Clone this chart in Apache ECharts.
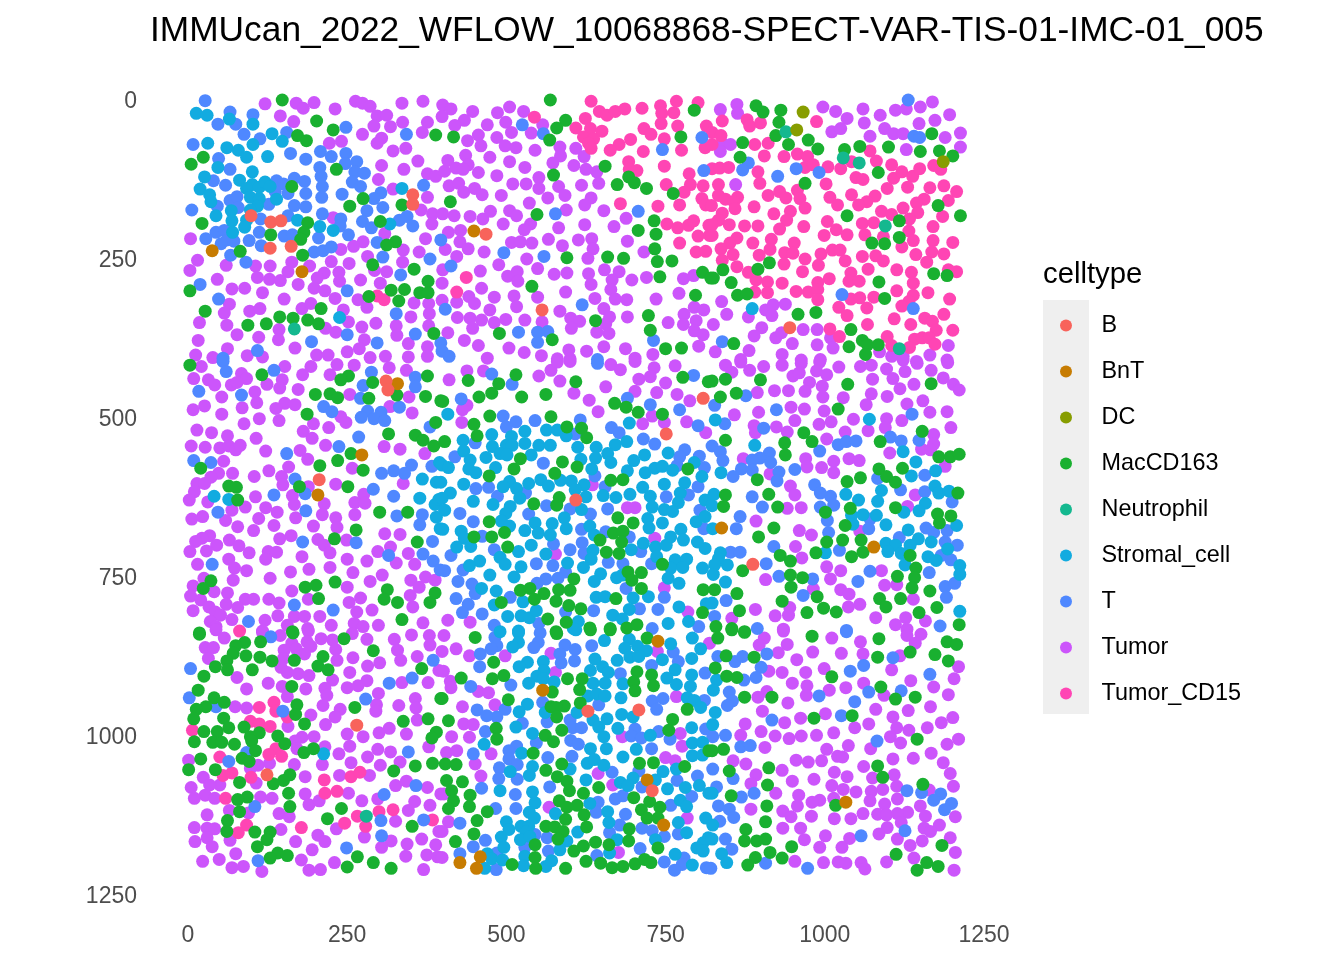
<!DOCTYPE html>
<html><head><meta charset="utf-8"><style>html,body{margin:0;background:#fff}#c{width:1344px;height:960px}</style>
<script src="https://cdn.jsdelivr.net/npm/echarts@6/dist/echarts.min.js"></script></head><body><div id="c"></div><script>
const names=["B","BnT","DC","MacCD163","Neutrophil","Stromal_cell","T","Tumor","Tumor_CD15"];
const colors=["#F8635B","#C77C02","#879D00","#19B030","#14B88F","#12ABE0","#4F88FF","#CC55FB","#FF45B4"];
const b=[99,182,130,192,146,190,129,233,162,230,353,149,353,164,468,211,556,330,945,358,311,442,314,456,206,597,809,469,751,525,609,629,887,730,265,983,124,1061,628,961,708,959,729,1086];
const bnt=[38,237,179,270,449,206,329,446,273,558,204,621,838,673,1077,703,738,851,557,928,721,1069,747,1140,427,1199,459,1190,453,1208,1033,1104];
const dc=[966,19,956,47,1186,97];
const neutrophil=[167,360,939,50,1029,91,1054,99,1095,198,1117,391,280,1126];
const tumorCD15=[297,308,308,314,633,2,767,2,801,4,646,18,658,24,671,18,686,14,713,13,742,9,744,21,763,20,544,27,624,29,743,37,609,44,632,45,650,49,769,41,716,45,727,54,814,41,621,58,637,61,748,61,629,68,633,76,695,62,677,70,663,79,715,81,775,79,812,75,692,97,693,109,705,111,748,104,787,116,751,133,789,133,779,145,809,135,807,155,813,165,679,163,738,167,772,165,752,195,769,201,786,197,794,190,818,197,801,214,819,213,772,225,798,239,813,238,437,279,422,302,
839,33,878,31,882,41,899,36,987,34,823,51,837,56,823,70,890,70,911,68,905,88,936,89,957,85,973,89,1071,80,1105,102,1081,96,1042,97,969,106,982,102,1005,105,1025,108,823,108,835,107,849,106,895,113,898,131,1002,132,1049,122,1060,125,1108,123,1121,113,1138,120,1149,108,1171,103,1182,109,1098,139,1130,137,1165,138,1187,135,1207,144,833,133,833,150,844,156,863,153,857,160,911,150,929,144,939,154,957,142,961,155,1008,153,1042,149,1079,151,1066,160,1053,165,1020,165,1156,156,1144,162,1194,158,889,168,859,171,969,170,822,166,946,175,1089,175,1105,180,1123,170,1146,177,920,179,839,178,1185,183,940,189,1133,187,1004,191,1059,194,1077,193,833,189,850,196,874,198,895,198,823,196,929,203,967,199,1170,199,1018,204,999,213,1035,212,1063,212,1092,215,1132,206,823,213,862,217,851,225,887,225,916,219,1139,221,1170,221,1201,224,952,225,837,234,856,243,914,235,937,240,950,241,994,242,1012,236,1024,236,1059,246,1080,245,1121,231,1143,243,1168,239,1187,242,897,244,839,252,969,250,1032,253,1092,253,1160,255,862,262,936,258,990,260,1068,266,1113,267,1136,271,1194,267,1207,270,880,271,965,270,1041,272,892,283,910,286,933,288,1007,281,989,287,1038,285,1054,285,1139,288,890,302,910,303,955,301,974,302,989,298,1113,300,1162,303,989,314,1041,313,1055,311,1077,310,1139,307,1132,317,1121,324,1196,313,1022,326,1066,327,1035,339,1109,344,1187,337,1157,343,1169,348,1067,353,1135,353,1175,362,1201,362,1008,360,1023,372,1098,372,1141,376,1153,374,1164,374,1173,384,1105,386,1133,389,
81,835,135,947,112,955,138,961,156,970,98,977,112,981,129,985,7,991,138,1020,127,1029,147,1032,50,1033,99,1065,69,1058,55,1062,214,1069,256,1064,270,1057,215,1090,234,1087,59,1098,300,1119,322,1116,266,1126,246,1137,279,1142,384,1132,92,1140,79,1152,178,1144];
const macTop=[148,0,202,33,228,47,172,56,186,64,389,55,24,90,5,101,233,109,163,136,275,155,254,167,336,165,22,194,188,193,302,191,182,208,177,219,130,212,326,223,312,228,82,238,180,244,290,259,355,266,377,285,3,300,284,309,319,299,340,298,364,303,377,303,331,316,27,332,209,328,144,341,165,343,188,346,205,352,123,352,94,354,386,367,
569,0,795,16,593,32,579,44,568,63,417,58,774,58,655,104,574,118,692,121,701,130,674,133,720,139,762,147,412,160,548,180,732,190,707,205,735,211,733,234,659,247,684,249,595,248,737,254,760,253,741,278,808,271,540,293,797,307,723,339,640,347,726,362,489,367,572,377,750,391,775,390,821,280,
892,9,903,19,931,16,928,35,923,56,974,63,943,70,989,77,871,67,867,90,1031,78,1055,73,1100,74,1168,53,1150,81,1180,80,1201,88,1084,114,969,131,1178,166,1213,182,1035,182,1117,190,1117,216,1074,225,1094,226,913,256,895,266,840,267,825,280,853,287,1171,273,1192,276,1085,286,863,307,878,305,1094,312,958,337,986,334,1041,361,857,383,1038,388,1059,378,1067,385,1084,385,1064,400];
const macMid=[3,417,116,432,252,434,240,440,290,444,376,434,328,464,200,463,223,462,235,468,284,469,373,466,397,473,187,494,315,525,357,527,369,535,386,544,389,507,256,556,235,567,207,575,275,582,20,579,175,608,251,608,64,607,76,609,78,629,301,648,345,648,264,676,230,690,360,695,36,756,24,768,231,758,184,766,201,763,205,784,313,770,308,785,329,790,380,790,388,775,336,817,18,838,164,836,
515,432,440,441,488,446,609,443,777,436,817,443,477,461,457,467,524,467,562,463,400,474,670,477,688,483,707,491,745,494,474,497,570,498,449,510,595,514,618,516,626,531,454,528,403,537,522,564,588,569,611,577,512,580,576,587,473,591,785,580,664,598,683,597,583,625,579,637,543,635,675,657,473,663,699,665,668,681,683,678,497,680,477,687,449,687,681,695,647,692,502,703,657,711,677,713,745,730,691,742,712,743,606,753,697,755,712,768,809,770,522,771,537,768,582,770,600,771,559,776,544,785,672,784,492,790,578,788,598,795,617,800,808,806,565,816,594,821,631,830,663,831,689,830,705,825,578,836,
823,442,844,439,899,440,1036,447,1167,446,836,467,861,461,1021,486,1153,521,967,523,844,535,937,539,980,537,1087,537,938,558,1179,561,1197,561,1211,557,1085,580,1122,579,894,597,1056,594,1035,600,1097,592,1111,601,912,620,844,621,1209,618,841,639,926,640,1111,641,1040,642,1001,648,1177,651,1198,654,1180,665,1032,669,920,673,896,687,1028,692,1057,692,1003,695,1060,711,1042,718,986,712,930,716,1134,716,946,725,1143,736,871,740,1114,749,946,747,965,751,1141,751,947,766,1137,767,1165,772,827,770,862,776,988,781,1086,784,1119,784,933,788,1096,797,1176,798,998,799,1018,805,972,806,866,803,1148,806,1211,825,829,828,854,831,874,836];
const macLow=[18,840,165,838,245,847,89,853,114,852,75,858,71,870,291,866,91,874,113,876,132,882,167,881,212,875,61,882,43,891,62,896,101,896,204,890,220,896,367,894,25,906,163,922,16,928,41,940,57,947,397,941,28,954,13,958,171,951,169,966,262,955,9,973,56,972,64,987,183,981,338,977,377,973,88,986,25,993,46,993,112,995,98,1001,141,1000,10,1009,39,1010,53,1010,73,1013,152,1012,100,1008,106,1023,182,1026,197,1020,390,994,383,1003,20,1036,85,1035,96,1040,43,1053,1,1053,357,1047,323,1055,384,1043,160,1061,150,1070,134,1075,81,1073,158,1090,93,1096,78,1100,160,1111,241,1114,81,1119,219,1130,62,1133,61,1150,105,1151,129,1151,352,1142,124,1163,109,1174,141,1184,129,1192,156,1188,266,1190,291,1199,250,1206,319,1208,
451,845,579,839,632,833,663,833,721,846,480,884,705,899,728,904,496,905,429,909,478,910,596,910,619,910,700,915,731,921,615,927,702,929,572,931,399,941,503,943,616,948,591,953,570,954,578,955,784,958,579,970,409,976,761,974,484,988,587,991,755,991,561,999,485,1005,574,1009,542,1027,818,1023,404,1044,421,1045,587,1044,709,1043,731,1042,780,1048,562,1054,580,1064,595,1071,406,1070,431,1072,645,1081,599,1086,414,1086,621,1090,443,1093,700,1097,417,1102,583,1102,725,1103,409,1114,442,1111,611,1109,595,1112,741,1112,712,1116,470,1119,622,1124,721,1129,738,1129,454,1133,593,1131,562,1142,576,1143,626,1143,589,1150,693,1146,449,1154,581,1162,420,1166,692,1165,640,1167,661,1171,545,1171,621,1173,606,1181,738,1176,545,1191,625,1197,648,1200,702,1201,717,1194,727,1199,509,1202,666,1207,683,1205,546,1208,593,1208,
832,846,854,833,874,837,980,843,1085,847,1192,852,1207,856,1134,868,845,874,889,876,1083,876,1173,872,1194,882,828,893,846,906,862,908,1011,907,1088,923,874,939,917,939,1111,942,1142,939,983,972,1043,968,1145,1005,841,1021,823,1023,912,1050,1083,1047,850,1055,1091,1065,910,1077,1154,1076,853,1094,1017,1109,909,1110,907,1135,876,1147,874,1165,893,1165,907,1162,948,1174,1184,1172,914,1183,891,1191,933,1192,1112,1186,879,1203,1160,1199,1178,1205,1145,1211];
const stromalTop=[13,21,30,24,65,30,102,38,132,53,148,65,31,68,61,75,79,79,102,70,92,90,125,89,47,106,101,113,26,121,81,126,101,133,92,139,112,137,121,129,129,136,19,140,34,149,36,160,98,153,112,155,139,156,109,167,98,173,68,174,44,182,69,190,92,189,89,200,70,208,172,189,207,199,228,205,317,195,336,139,238,342,886,328,
41,623,64,628,368,596,364,626,390,601,388,636,394,628,390,656,396,674,395,570];
const stromalMid=[408,494,529,521,477,526,563,519,580,519,594,528,508,529,693,508,432,535,529,540,478,545,500,543,509,543,551,543,569,543,612,546,641,546,689,537,671,542,433,552,490,556,501,558,539,558,468,562,640,563,659,556,617,565,754,555,717,558,443,566,664,570,700,567,795,570,399,574,409,578,441,580,483,578,634,580,452,586,690,583,718,586,733,579,745,576,761,582,807,592,397,601,433,604,554,597,566,607,585,598,602,599,505,600,495,608,535,603,622,605,714,609,748,604,780,602,412,618,516,611,608,613,652,622,672,625,694,620,726,623,773,618,521,626,625,624,448,631,399,626,479,636,506,639,812,629,729,640,748,644,770,633,761,647,403,645,618,644,499,650,591,657,722,658,492,662,545,665,572,666,745,665,798,663,812,655,400,675,505,670,594,674,631,670,724,673,429,678,529,677,550,681,569,684,638,684,774,675,434,689,715,697,758,687,778,692,800,695,422,703,444,702,539,700,636,708,696,707,734,703,751,700,812,705,490,719,519,710,562,714,498,730,633,722,596,728,736,718,458,725,442,732,523,734,621,735,765,723,783,722,758,736,777,735,808,736,474,747,512,750,648,745,638,757,673,751,682,747,754,752,771,760,461,768,484,772,526,789,641,782,655,781,699,783,723,781,481,794,693,801,771,797,814,792,667,810,682,816,502,812,523,811,536,814,547,803,613,820,754,823,786,820,519,835,605,831,
1070,502,828,503,890,543,1123,553,1143,569,837,586,1174,583,1136,591,1089,614,1173,607,1179,618,1195,615,1033,620,1053,629,1083,631,826,620,1158,634,1148,646,823,638,1124,648,1042,653,1060,652,1081,653,1044,667,1096,668,1207,669,1131,676,824,674,1147,690,1167,695,1096,697,1111,700,1099,710,1134,700,1193,706,1001,712,1120,713,1162,718,1175,724,836,712,833,721,847,731,1126,731,827,731,1212,732,825,746,1212,746,844,758,1212,804,823,791];
const stromalLow=[213,1028,490,836,519,838,609,833,654,850,693,848,519,853,510,860,758,855,792,846,686,862,706,859,720,866,805,863,694,876,708,875,639,879,674,881,745,880,791,878,533,884,520,891,558,883,559,897,651,891,632,897,660,900,765,896,791,904,548,906,558,910,575,915,535,917,752,909,636,917,655,917,683,918,767,919,789,922,628,937,642,934,655,937,680,940,784,940,795,944,533,950,805,955,520,962,611,963,681,966,561,963,699,970,636,975,658,973,515,986,645,986,675,988,791,987,541,996,653,1001,726,999,465,1013,792,1011,808,1010,632,1020,657,1020,704,1021,524,1027,683,1033,792,1031,808,1030,627,1043,638,1037,653,1046,600,1052,541,1048,767,1052,506,1056,536,1062,699,1066,746,1056,734,1069,625,1069,679,1073,691,1078,803,1078,781,1081,490,1086,753,1083,541,1088,818,1090,545,1105,631,1106,773,1101,783,1111,536,1120,577,1122,659,1119,544,1129,500,1135,661,1136,770,1136,813,1129,523,1142,504,1147,535,1142,612,1151,783,1152,492,1159,531,1151,522,1163,537,1158,734,1163,674,1163,595,1165,584,1179,496,1175,817,1160,809,1168,799,1176,809,1181,765,1186,662,1184,470,1185,529,1189,571,1196,477,1193,494,1195,792,1203,527,1204,562,1205,466,1208,
830,912,825,928,828,963,824,982,823,1090,824,1140,823,1162,838,1185,846,1199];
const tTop=[27,1,66,19,102,23,47,38,75,38,88,54,113,61,155,51,248,43,343,54,8,70,161,84,185,93,208,81,225,89,248,84,247,100,265,97,48,92,66,109,207,106,209,120,211,136,210,153,262,113,277,115,258,129,271,136,40,127,59,134,139,127,150,132,167,123,183,128,185,147,157,147,137,144,242,148,303,146,292,155,370,134,6,173,46,167,66,158,77,152,79,169,127,164,167,166,185,168,281,174,306,169,211,179,157,182,114,187,240,187,239,198,274,191,288,201,332,189,344,183,353,198,44,208,57,205,28,218,52,226,61,220,72,222,96,221,112,208,115,229,151,214,164,212,205,217,252,212,297,224,198,239,212,237,225,231,67,244,91,255,306,247,380,250,334,275,19,290,250,300,48,313,327,336,250,369,194,380,357,368,297,382,109,394,55,406,
525,39,558,53,745,78,807,59,810,111,707,175,577,179,496,240,559,246,413,261,619,322,404,329,519,365,549,365,565,364,549,381,731,378,397,382,399,395,410,403,643,408,397,220,
1131,0,1140,57,1149,59,880,99,871,110,926,120,955,108,991,114,1027,306,1139,328,839,380];
const tMid=[55,411,135,425,60,427,288,428,357,436,357,451,275,449,17,458,84,464,271,469,332,483,213,482,226,490,282,489,303,491,272,499,292,501,309,504,380,514,268,530,237,545,155,556,9,567,36,570,383,576,351,574,323,583,340,587,304,587,168,596,184,619,291,612,135,621,323,623,47,648,185,646,328,654,368,652,364,668,180,695,264,696,384,694,315,716,369,714,385,725,38,730,167,794,228,802,95,820,396,739,
643,414,477,431,509,447,794,433,429,470,690,469,726,479,772,487,495,497,515,506,500,514,545,504,616,503,665,515,677,523,801,512,608,525,715,533,733,541,451,539,780,550,419,561,772,561,803,560,558,571,768,575,811,578,639,591,452,611,472,609,486,623,530,618,655,608,801,608,751,624,786,621,563,638,600,643,659,643,535,651,632,651,427,650,448,663,804,645,618,675,656,679,462,686,693,687,810,674,574,698,619,696,481,707,413,716,600,707,622,713,711,710,660,727,683,729,728,729,547,729,573,732,403,740,432,739,593,742,562,753,581,752,548,760,424,757,446,761,451,776,688,768,506,782,421,784,440,793,431,806,462,808,748,782,637,803,709,800,738,801,593,805,481,826,551,823,802,828,729,831,
876,465,827,480,924,487,843,509,904,516,1137,494,1103,530,1120,536,1148,535,1021,542,1034,537,1049,536,823,544,836,553,992,552,913,555,898,563,886,566,840,567,915,570,869,580,886,582,953,581,856,592,928,585,925,599,1083,595,1157,590,984,605,993,618,1119,613,1157,616,1009,623,1014,637,993,640,886,624,902,640,1200,632,867,655,1004,661,861,674,1071,659,1069,674,1159,673,1171,680,1192,677,1006,680,1117,688,1189,695,1208,700,920,702,852,711,867,711,1023,708,1183,716,1198,723,908,729,928,749,1071,741,1164,743,981,753,1052,757,1189,765,1204,760,966,779,1191,782,845,787,827,812,894,831,1034,834,1181,827];
const tLow=[130,844,4,894,385,881,352,909,316,917,2,940,44,954,279,942,149,961,92,1026,64,1040,346,1025,358,1078,308,1092,105,1111,303,1133,370,1132,304,1157,249,1176,110,1196,
482,845,634,858,592,857,485,858,476,863,459,871,553,838,550,853,543,861,608,864,584,871,607,882,586,885,762,868,770,883,458,891,728,889,679,902,812,901,507,920,444,922,729,945,746,941,811,944,557,947,645,951,454,959,736,958,498,958,485,970,469,968,564,978,525,980,600,975,604,987,618,987,813,989,467,993,702,989,739,993,696,1000,712,1003,757,1005,547,1011,601,1007,613,1013,516,1016,504,1023,728,1020,448,1028,504,1036,603,1032,517,1045,565,1034,489,1050,488,1067,517,1068,666,1057,708,1055,800,1063,768,1070,713,1080,568,1080,461,1082,514,1092,683,1094,671,1099,791,1095,644,1104,758,1109,483,1114,515,1114,641,1120,687,1123,427,1137,678,1140,713,1145,729,1149,662,1152,770,1154,748,1158,545,1155,564,1160,467,1164,448,1174,710,1177,529,1175,566,1181,427,1185,642,1188,485,1184,779,1192,748,1198,776,1202,764,1211,484,1210,814,1207,
1034,836,1107,877,832,875,859,883,871,875,909,871,1061,889,1040,898,900,892,892,908,1165,903,873,912,850,931,991,937,1069,931,1120,929,855,945,847,952,1047,946,917,975,1026,968,844,999,824,1001,1082,1008,868,1017,883,1015,824,1052,856,1067,830,1080,889,1090,869,1096,1129,1086,1152,1089,1182,1091,1171,1101,1199,1106,1188,1116,833,1110,850,1115,857,1128,835,1134,1126,1149,1057,1157,844,1162,854,1178,907,1200,973,1208,821,1208];
const tumorTop=[121,6,170,5,181,13,198,4,231,14,263,2,274,5,286,10,336,5,369,2,145,25,166,34,297,25,312,24,292,41,318,42,337,35,376,35,368,51,274,54,241,65,222,68,304,60,297,68,322,80,342,76,361,96,304,103,339,109,376,116,389,120,299,125,322,140,376,153,366,173,384,179,383,195,228,185,309,210,373,218,4,218,275,223,260,230,240,235,338,236,363,239,282,246,15,252,60,260,106,261,129,261,163,255,191,261,225,254,253,257,337,255,3,268,157,270,109,279,128,282,145,284,46,282,214,272,203,280,237,271,238,285,271,283,293,268,312,270,302,288,173,290,198,296,215,300,69,297,89,296,117,303,151,313,231,312,267,314,65,321,57,335,97,332,113,328,179,328,193,320,244,330,281,326,355,319,378,320,379,336,350,341,252,349,295,351,18,350,61,354,77,369,143,361,142,377,111,373,216,359,232,365,273,357,277,377,269,391,327,355,328,370,378,355,346,383,16,378,62,391,168,390,250,396,376,388,12,401,39,405,93,402,117,404,202,401,220,401,286,405,310,403,346,404,376,403,
400,8,413,14,399,26,447,18,486,20,505,11,527,18,434,32,419,40,470,39,499,35,557,39,456,55,485,59,508,51,539,52,439,64,460,72,498,72,515,75,545,79,584,74,585,88,609,76,622,89,436,87,474,90,505,97,408,95,440,102,421,107,432,109,403,112,456,114,485,119,529,106,573,99,606,103,625,109,642,113,551,122,551,139,510,132,531,132,410,135,425,131,433,145,450,139,462,149,492,150,582,136,618,134,645,131,592,150,565,154,633,154,536,162,623,165,400,179,418,182,443,183,463,187,475,175,505,174,516,182,594,173,653,174,688,186,495,195,538,195,528,204,582,201,623,196,669,199,409,208,428,205,427,223,440,234,404,235,508,224,522,223,540,225,566,219,588,229,613,220,634,218,636,234,690,222,716,239,422,246,465,239,532,250,628,249,488,259,400,267,459,269,549,265,517,270,502,277,518,285,575,274,595,272,629,273,654,267,677,270,666,283,697,283,720,279,778,281,794,276,399,288,633,290,461,296,664,298,593,302,771,304,441,309,481,310,512,308,549,310,639,312,671,313,689,314,735,313,422,318,450,320,399,315,516,325,474,330,584,332,653,328,795,326,810,330,423,342,443,343,461,346,481,350,499,345,529,346,556,349,601,343,615,348,602,359,662,341,690,341,779,337,798,347,754,350,778,353,656,352,447,359,408,366,642,365,661,367,795,363,809,369,434,378,456,386,504,390,528,397,598,393,626,395,653,388,687,391,802,387,730,400,555,402,470,406,580,407,600,407,702,406,
836,15,862,7,863,21,997,11,1017,18,1035,29,1060,14,1087,24,1111,16,1128,14,1150,11,1169,3,1196,23,1173,32,1062,36,1148,37,1011,50,1025,45,1071,57,1094,45,1108,53,1123,53,1189,59,1213,52,1213,74,1128,78,839,68,852,70,836,81,860,133,838,317,846,337,880,341,907,330,919,322,938,321,917,339,825,353,901,358,889,371,923,374,932,366,966,361,988,361,1009,374,949,383,988,385,1013,390,881,394,828,396,933,400,868,408,963,409,993,408,1086,396,1123,403,1105,403,1144,411,1165,401,1194,386,1192,409];
const tumorMidA=[21,419,152,419,193,419,234,416,261,417,316,421,343,425,180,432,223,432,84,430,92,438,9,438,32,440,42,448,68,448,77,444,148,440,124,447,144,453,173,455,254,463,105,459,53,467,347,467,108,476,85,484,8,487,26,481,152,477,138,485,168,479,317,482,352,492,53,494,112,501,143,504,240,498,248,507,88,509,197,509,221,515,14,519,37,523,62,528,181,521,195,532,107,532,5,544,27,546,50,547,64,544,75,550,82,543,122,552,216,543,176,551,308,545,333,549,188,565,372,556,56,568,158,577,258,579,127,583,48,587,36,593,70,587,104,592,147,592,14,603,26,603,149,605,189,608,232,604,10,616,2,629,31,632,106,624,164,622,338,603,276,620,262,633,278,634,167,636,214,635,90,640,122,641,69,645,140,648,211,652,262,652,6,659,23,655,59,661,111,658,169,657,232,657,135,669,197,670,234,672,78,671,103,677,34,685,22,689,12,694,162,685,309,682,333,683,144,690,65,692,204,691,249,692,45,700,80,701,214,700,3,710,29,709,96,712,223,712,126,710,139,711,122,722,179,718,298,710,318,703,346,713,64,722,250,722,281,725,15,730,327,728,356,730,73,736,92,740,190,738,223,735,161,742,259,743,305,747,373,750,388,755,25,752,129,752,71,755,350,755,286,757,8,764,41,773,250,766,363,766,62,775,4,780,163,772,349,779,90,785,103,785,127,785,143,791,189,785,271,783,20,786,60,793,33,797,78,798,253,790,353,797,8,803,43,805,51,810,265,805,289,802,141,811,167,812,183,812,207,812,35,820,69,817,121,818,225,826,156,826,369,822,299,826,261,823,275,828,44,828,188,831,117,835,
438,426,464,426,551,434,570,425,580,412,600,411,664,416,679,424,702,411,732,421,765,418,410,440,584,442,708,439,726,435,750,445,656,451,606,461,702,458,736,460,768,463,788,473,630,472,438,480,431,487,644,490,430,507,714,509,729,497,748,507,783,506,813,523,635,605,690,641,702,641,733,689,577,714,748,767,785,805,408,818,443,821];
const tumorMidB=[844,417,868,412,904,419,933,417,882,425,854,428,963,414,992,412,1022,420,1056,419,1073,417,1097,423,1123,409,1145,414,1193,413,1126,427,1167,425,950,434,960,429,987,426,1003,432,976,444,1075,439,1107,438,1140,447,1186,437,996,450,1118,454,1202,447,1211,456,894,460,921,457,943,457,969,458,997,467,1073,462,1098,466,1029,468,1065,479,1129,478,1154,473,947,483,968,486,999,489,896,491,858,495,1165,491,1192,490,953,504,991,510,1010,506,1045,502,1097,501,1121,504,1095,515,1068,520,889,512,924,514,941,522,891,523,1032,522,1198,515,1171,526,1003,533,1171,541,1152,549,1166,550,1102,555,872,564,970,564,1038,564,1054,567,1014,568,972,577,995,578,1189,576,1014,586,914,588,946,607,953,621,1142,621,941,642,963,641,1130,639,892,662,960,677,979,684,1055,678,954,702,964,720,1003,734,1025,740,1089,740,907,754,1009,753,1094,763,1113,762,982,769,1025,770,1038,777,1139,785,1055,793,1037,797,891,801,945,798,922,811,943,810,854,815,1080,814,1127,814,1158,819,1111,825,935,832,1129,832];
const tumorLow=[44,833,57,846,117,837,189,835,145,842,209,847,227,849,258,839,281,848,324,848,351,841,379,842,27,861,40,861,163,854,187,852,380,857,193,859,151,865,170,863,183,871,232,864,329,865,32,878,150,878,234,881,259,877,334,881,360,875,282,890,301,885,146,892,156,900,173,902,190,905,254,900,394,897,77,908,227,912,281,913,336,916,377,916,126,917,148,922,185,926,215,925,250,924,267,921,92,926,218,936,299,933,156,938,357,941,74,954,92,956,212,952,296,951,239,958,331,952,358,956,295,961,231,970,193,967,360,975,157,985,216,982,316,988,300,995,250,997,343,997,275,1001,179,1002,198,1001,168,1008,254,1016,215,1017,171,1020,378,1017,298,1021,318,1025,237,1028,282,1033,1,1038,128,1043,110,1046,98,1051,167,1045,256,1042,333,1041,302,1046,211,1045,24,1065,184,1064,238,1062,285,1062,50,1077,34,1077,107,1074,326,1078,343,1071,376,1081,5,1081,27,1093,10,1098,42,1098,114,1096,132,1098,184,1091,252,1090,397,1091,190,1108,206,1102,273,1102,298,1099,356,1103,380,1109,30,1124,65,1117,95,1121,143,1122,159,1127,346,1117,326,1134,10,1144,30,1145,42,1146,146,1147,233,1146,394,1150,30,1160,66,1164,204,1156,11,1166,215,1166,277,1159,169,1166,319,1165,367,1162,344,1170,38,1174,304,1175,389,1171,195,1179,75,1185,342,1189,375,1187,392,1190,49,1194,23,1197,178,1195,230,1199,69,1207,87,1205,116,1213,190,1211,208,1210,370,1210,
402,842,421,863,442,874,399,867,498,874,570,870,737,867,819,854,577,900,401,898,412,914,413,924,456,930,472,932,767,938,431,954,482,951,433,981,448,982,414,1001,442,1002,682,1001,773,996,776,1016,406,1026,422,1023,476,1028,451,1044,750,1034,765,1039,460,1063,644,1059,667,1077,402,1091,567,1112,784,1129,409,1135,399,1150,676,1183,399,1191,
905,846,897,857,941,856,935,835,1011,846,1056,852,1129,842,1151,840,1142,854,927,869,981,868,1026,870,1060,871,1118,874,956,880,999,894,1105,896,1210,891,912,898,933,900,970,900,1203,910,949,917,972,921,1061,917,1135,913,1171,923,1033,924,1007,928,971,936,909,930,895,939,1194,935,1093,936,942,948,1166,954,902,961,1080,958,1131,960,1001,965,962,972,1107,970,1201,971,875,981,937,979,1183,979,1047,987,1069,981,1113,987,1161,987,900,993,1132,991,868,999,922,1000,944,1004,963,1000,987,999,1014,995,1103,1001,1210,1005,906,1018,1119,1011,1192,1013,1037,1015,1072,1020,1003,1021,1167,1027,1139,1035,1020,1032,1028,1033,1107,1036,955,1038,974,1041,995,1039,856,1039,876,1044,1186,1042,1061,1048,933,1054,1015,1057,1109,1061,1197,1059,892,1061,1035,1064,1075,1066,983,1068,949,1071,884,1075,1011,1078,1113,1079,1202,1079,1164,1085,1029,1084,1049,1088,1073,1087,1091,1084,923,1090,959,1093,1114,1099,1014,1098,992,1101,980,1104,1071,1102,1094,1107,957,1110,1150,1110,884,1115,934,1118,1060,1122,1130,1120,1083,1123,1097,1124,1114,1122,947,1127,979,1126,1158,1126,1205,1127,1015,1130,1041,1130,1120,1136,1180,1140,934,1145,962,1145,1098,1144,1156,1145,1166,1150,1085,1154,1001,1157,968,1163,1039,1161,1114,1162,1153,1165,1197,1160,992,1175,1027,1175,1134,1172,1205,1183,1140,1192,953,1197,998,1199,1021,1198,1033,1200,1057,1199,1063,1209,1097,1198,1203,1211];
const flat=[b,bnt,dc,[...macTop,...macMid,...macLow],neutrophil,[...stromalTop,...stromalMid,...stromalLow],[...tTop,...tMid,...tLow],[...tumorTop,...tumorMidA,...tumorMidB,...tumorLow],tumorCD15];
const drawOrder=[7,8,6,5,3,4,2,1,0];
const pairs=a=>{const r=[];for(let i=0;i+1<a.length;i+=2)r.push([a[i],a[i+1]]);return r};
const chart=echarts.init(document.getElementById('c'),null,{renderer:'canvas'});
const F='"Liberation Sans",Helvetica,Arial,sans-serif';
chart.setOption({animation:false,
title:[{text:"IMMUcan_2022_WFLOW_10068868-SPECT-VAR-TIS-01-IMC-01_005",left:150,top:14,padding:0,textStyle:{fontFamily:F,fontSize:35.3,fontWeight:'normal',color:'#000'}},
{text:"celltype",left:1043,top:260,padding:0,textStyle:{fontFamily:F,fontSize:29.3,fontWeight:'normal',color:'#000'}}],
grid:{left:188,top:100,width:796,height:795},
xAxis:{type:'value',min:0,max:1250,interval:250,axisLine:{show:false},axisTick:{show:false},splitLine:{show:false},axisLabel:{fontFamily:F,fontSize:23,color:'#4D4D4D',margin:29,formatter:v=>String(v)}},
yAxis:{type:'value',min:0,max:1250,interval:250,inverse:true,axisLine:{show:false},axisTick:{show:false},splitLine:{show:false},axisLabel:{margin:51,align:'right',formatter:v=>`{v|${v}}`,rich:{v:{fontFamily:F,fontSize:23,color:'#4D4D4D',padding:[4,0,0,0]}}}},
legend:{orient:'vertical',left:1060,top:314,itemWidth:61,itemHeight:12,itemGap:23,icon:'circle',padding:0,data:names,textStyle:{fontFamily:F,fontSize:23.4,color:'#000'}},
graphic:[{type:'rect',shape:{x:1043,y:300,width:46,height:414},style:{fill:'#EFEFEF'},z:-1,silent:true}],
color:colors,
series:drawOrder.map(i=>({name:names[i],type:'scatter',symbolSize:13,clip:false,data:pairs(flat[i]),itemStyle:{color:colors[i],opacity:1}}))
});
</script></body></html>
